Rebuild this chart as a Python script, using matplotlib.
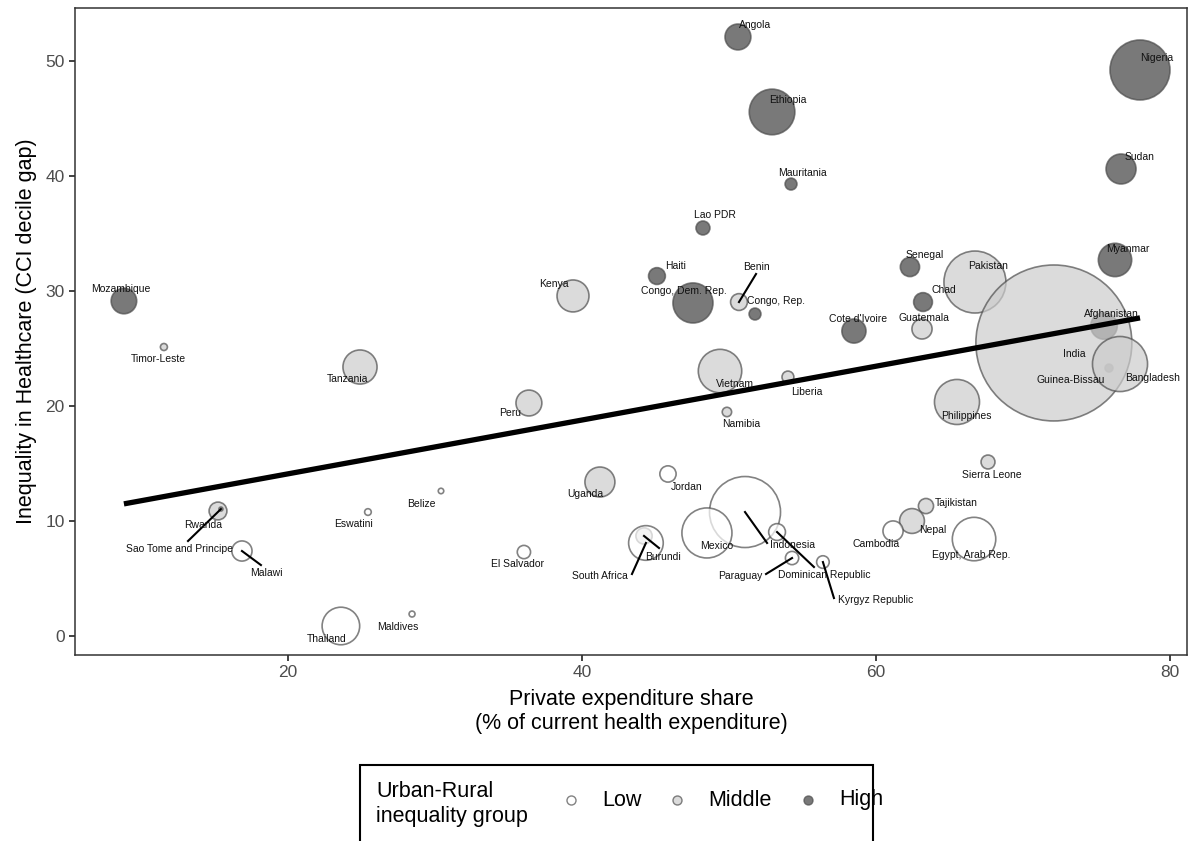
import numpy as np
import matplotlib
matplotlib.use("Agg")
import matplotlib.pyplot as plt
from matplotlib.lines import Line2D
from matplotlib.patches import Rectangle

plt.rcParams['font.family'] = ['Liberation Sans', 'DejaVu Sans']

# values
countries = ["Mozambique", "Timor-Leste", "Tanzania", "Kenya", "Peru", "Vietnam",
             "Liberia", "Namibia", "Lao PDR", "Mauritania", "Angola", "Ethiopia",
             "Haiti", "Congo, Dem. Rep.", "Benin", "Congo, Rep.", "Cote d'Ivoire",
             "Senegal", "Chad", "Guatemala", "Pakistan", "Afghanistan", "India",
             "Guinea-Bissau", "Bangladesh", "Philippines", "Myanmar", "Sudan",
             "Nigeria", "Sierra Leone", "Tajikistan", "Nepal", "Cambodia",
             "Egypt, Arab Rep.", "Indonesia", "Mexico", "Dominican Republic",
             "Paraguay", "Kyrgyz Republic", "Jordan", "Uganda", "South Africa",
             "Burundi", "El Salvador", "Belize", "Eswatini", "Rwanda",
             "Sao Tome and Principe", "Malawi", "Thailand", "Maldives"]

private_share = [8.84, 11.56, 24.9, 39.39, 36.39, 49.39,
                 54.01, 49.86, 48.23, 54.22, 50.61, 52.93,
                 45.1, 47.55, 50.68, 51.77, 58.5,
                 62.31, 63.2, 63.13, 66.73, 75.51, 72.1,
                 75.85, 76.6, 65.51, 76.26, 76.67,
                 77.96, 67.62, 63.4, 62.45, 61.16,
                 66.67, 51.09, 48.5, 53.27,
                 54.29, 56.39, 45.85, 41.22, 44.35,
                 44.22, 36.05, 30.41, 25.44, 15.24,
                 15.44, 16.87, 23.6, 28.44]

cci_gap = [29.13, 25.13, 23.39, 29.57, 20.26, 23.04,
           22.52, 19.48, 35.48, 39.30, 52.09, 45.57,
           31.3, 28.96, 29.04, 28.0, 26.52,
           32.09, 29.04, 26.70, 30.78, 26.96, 25.48,
           23.30, 23.65, 20.35, 32.70, 40.61,
           49.22, 15.13, 11.3, 10.0, 9.13,
           8.43, 10.78, 8.96, 9.04,
           6.78, 6.43, 14.09, 13.39, 8.09,
           8.70, 7.30, 12.61, 10.78, 10.87,
           11.04, 7.39, 0.87, 1.91]

# population (millions)
population = [37, 2.8, 66, 58, 38, 107,
              8, 5, 11, 8, 38, 118,
              16, 91, 16, 8, 33,
              21, 20, 23, 218, 40, 1380,
              3.6, 172, 115, 63, 51,
              204, 11, 13, 35, 23,
              107, 286, 142, 16,
              10, 9, 15, 51, 68,
              15, 10, 1.7, 2.5, 18,
              0.9, 23, 80, 2]

group = ["High", "Middle", "Middle", "Middle", "Middle", "Middle",
         "Middle", "Middle", "High", "High", "High", "High",
         "High", "High", "Middle", "High", "High",
         "High", "High", "Middle", "Middle", "High", "Middle",
         "High", "Middle", "Middle", "High", "High",
         "High", "Middle", "Middle", "Middle", "Low",
         "Low", "Low", "Low", "Low",
         "Low", "Low", "Low", "Middle", "Low",
         "Middle", "Low", "Low", "Low", "Middle",
         "Middle", "Low", "Low", "Low"]

group_levels = ["Low", "Middle", "High"]

# trend line (intercept, slope)
trend_intercept = 9.42
trend_slope = 0.234

# label placement (data coords) and repel segments
label_pos = {
    "Mozambique": (8.64, 30.17), "Timor-Leste": (11.16, 24.09), "Tanzania": (24.08, 22.35),
    "Kenya": (38.10, 30.61), "Peru": (35.10, 19.39), "Vietnam": (50.41, 21.91),
    "Liberia": (55.31, 21.22), "Namibia": (50.82, 18.43), "Lao PDR": (49.05, 36.61),
    "Mauritania": (54.97, 40.26), "Angola": (51.77, 53.13), "Ethiopia": (54.01, 46.61),
    "Haiti": (46.39, 32.17), "Congo, Dem. Rep.": (46.94, 30.0), "Benin": (51.90, 32.09),
    "Congo, Rep.": (53.2, 29.13), "Cote d'Ivoire": (58.78, 27.57), "Senegal": (63.33, 33.13),
    "Chad": (64.63, 30.09), "Guatemala": (63.27, 27.65), "Pakistan": (67.62, 32.17),
    "Afghanistan": (75.99, 28.0), "India": (73.47, 24.52), "Guinea-Bissau": (73.27, 22.26),
    "Bangladesh": (78.78, 22.43), "Philippines": (66.12, 19.13), "Myanmar": (77.14, 33.65),
    "Sudan": (77.96, 41.65), "Nigeria": (79.12, 50.26), "Sierra Leone": (67.89, 14.0),
    "Tajikistan": (65.44, 11.57), "Nepal": (63.88, 9.22), "Cambodia": (60.0, 8.0),
    "Egypt, Arab Rep.": (66.46, 7.04), "Indonesia": (54.29, 7.91), "Mexico": (49.18, 7.83),
    "Dominican Republic": (56.46, 5.30), "Paraguay": (50.75, 5.22),
    "Kyrgyz Republic": (60.0, 3.13), "Jordan": (47.14, 12.96), "Uganda": (40.2, 12.35),
    "South Africa": (41.22, 5.22), "Burundi": (45.51, 6.87), "El Salvador": (35.58, 6.26),
    "Belize": (29.05, 11.48), "Eswatini": (24.49, 9.74), "Rwanda": (14.22, 9.65),
    "Sao Tome and Principe": (12.65, 7.57), "Malawi": (18.5, 5.48),
    "Thailand": (22.65, -0.26), "Maldives": (27.48, 0.78),
}
segment_start = {
    "Benin": (51.84, 31.48), "Indonesia": (52.59, 8.09), "Dominican Republic": (55.78, 6.0),
    "Paraguay": (52.52, 5.39), "Kyrgyz Republic": (57.14, 3.30), "South Africa": (43.4, 5.39),
    "Burundi": (45.24, 7.65), "Sao Tome and Principe": (13.2, 8.26), "Malawi": (18.16, 6.17),
}

fills = {"Low": "#ffffff", "Middle": "#cccccc", "High": "#404040"}
edge = "#4d4d4d"

x = np.array(private_share)
y = np.array(cci_gap)
pop = np.array(population)
grp = np.array(group)

fig = plt.figure(figsize=(11.88, 8.41), dpi=100)
ax = fig.add_axes([0.0631, 0.2212, 0.9361, 0.7693])

# high drawn first, low last (as in the reference stacking)
for g in ["High", "Middle", "Low"]:
    m = grp == g
    ax.scatter(x[m], y[m], s=pop[m] * 9.14, c=fills[g], edgecolors=edge,
               linewidths=1.2, alpha=0.7, zorder=2)

xs = np.array([x.min(), x.max()])
ax.plot(xs, trend_intercept + trend_slope * xs, color="black", lw=3.8,
        solid_capstyle="butt", zorder=3)

for i, name in enumerate(countries):
    lx, ly = label_pos[name]
    if name in segment_start:
        sx, sy = segment_start[name]
        ax.plot([sx, x[i]], [sy, y[i]], color="black", lw=1.5, zorder=4)
    ax.text(lx, ly, name, fontsize=7.5, ha="center", va="center", color="#111111", zorder=5)

ax.set_xlim(5.51, 81.16)
ax.set_ylim(-1.65, 54.61)
ax.set_xticks([20, 40, 60, 80])
ax.set_yticks([0, 10, 20, 30, 40, 50])
for sp in ax.spines.values():
    sp.set_color("#333333")
    sp.set_linewidth(1.1)
ax.tick_params(colors="#333333", labelcolor="#4d4d4d", labelsize=12.5,
               length=4, width=1.3)
ax.set_xlabel("Private expenditure share\n(% of current health expenditure)",
              fontsize=15.5, labelpad=6)
ax.set_ylabel("Inequality in Healthcare (CCI decile gap)", fontsize=15.5, labelpad=6)

# legend box at bottom, built by hand so the title sits on the left
W, H = 1188.0, 841.0
box = Rectangle((360 / W, -0.02), (873 - 360) / W, 1 - 765 / H + 0.02,
                transform=fig.transFigure, fill=False, edgecolor="black",
                lw=1.5, clip_on=False)
fig.add_artist(box)
fig.text(376 / W, 1 - 804 / H, "Urban-Rural\ninequality group", fontsize=15.5,
         ha="left", va="center", linespacing=1.2)
leg_x = {"Low": 571, "Middle": 677, "High": 808}
for g in group_levels:
    fig.add_artist(Line2D([leg_x[g] / W], [1 - 800 / H], marker="o", markersize=6.5,
                          markerfacecolor=fills[g], markeredgecolor=edge,
                          markeredgewidth=1.0, alpha=0.7, linestyle="none",
                          transform=fig.transFigure))
    fig.text((leg_x[g] + 31) / W, 1 - 800 / H, g, fontsize=15.5, ha="left", va="center")

fig.savefig("out.png", dpi=100)
